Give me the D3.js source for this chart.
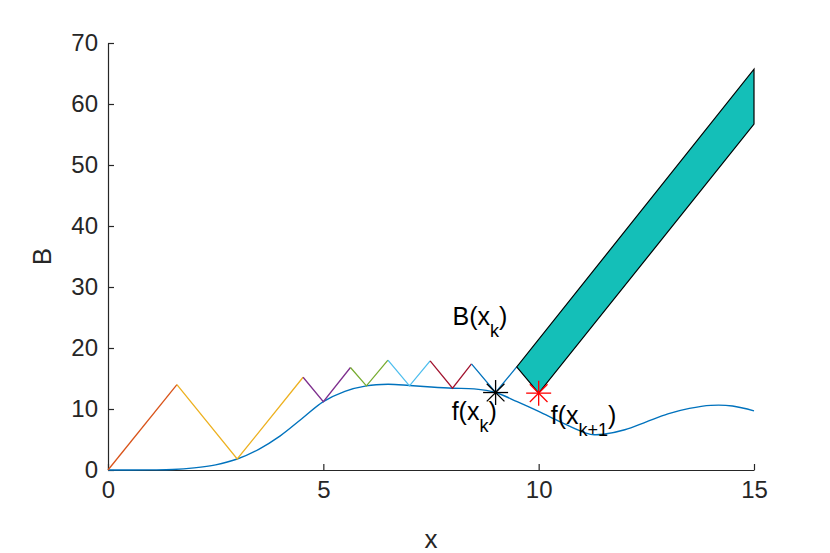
<!DOCTYPE html>
<html><head><meta charset="utf-8">
<script src="https://cdn.jsdelivr.net/npm/d3@7"></script>
<style>body{margin:0;background:#fff}svg{display:block}</style>
</head><body>
<svg id="c" width="830" height="553"></svg>
<script>
// ---- data ----
const xTicks = [0, 5, 10, 15];
const yTicks = [0, 10, 20, 30, 40, 50, 60, 70];
const fX = [0, 0.5, 1, 1.5, 2, 2.5, 3, 3.5, 4, 4.5, 5, 5.5, 6, 6.5, 7, 7.5, 8, 8.5, 9, 9.5, 10, 10.5, 11, 11.25, 11.5, 12, 12.5, 13, 13.5, 14, 14.5, 15];
const fY = [0, 0, 0.02, 0.08, 0.35, 0.85, 1.8, 3.4, 5.6, 8.4, 11.2, 12.9, 13.8, 14.05, 13.85, 13.6, 13.4, 13.3, 12.7, 11.2, 9.6, 7.9, 6.3, 5.8, 5.85, 6.6, 7.9, 9.2, 10.1, 10.6, 10.5, 9.7];
const segX = [[0, 1.6], [1.6, 3, 4.53], [4.53, 5, 5.63], [5.63, 6, 6.5], [6.5, 7, 7.48], [7.48, 8, 8.44], [8.44, 9, 9.49]];
const segY = [[0, 14.0], [14.0, 1.8, 15.2], [15.2, 11.2, 16.8], [16.8, 13.8, 18.0], [18.0, 13.8, 17.9], [17.9, 13.4, 17.4], [17.4, 12.7, 16.9]];
const segColors = ["#D95319", "#EDB120", "#7E2F8E", "#77AC30", "#4DBEEE", "#A2142F", "#0072BD"];
const bandX = [9.49, 10, 15, 15];
const bandY = [16.9, 12.6, 56.7, 65.7];
const starX = [9, 10];
const starY = [12.7, 12.6];
const starColors = ["#000000", "#FF0000"];
const labels = [
  {main: "B(x", sub: "k", end: ")", x: 8.0, y: 23.8},
  {main: "f(x", sub: "k", end: ")", x: 7.98, y: 8.2},
  {main: "f(x", sub: "k+1", end: ")", x: 10.28, y: 7.5}
];

// ---- chart ----
const svg = d3.select("#c");
const font = "'Liberation Sans', Arial, Helvetica, sans-serif";
const x = d3.scaleLinear().domain([0, 15]).range([108, 754]);
const y = d3.scaleLinear().domain([0, 70]).range([470, 43]);
const axisColor = "#262626";

const gx = svg.append("g").attr("transform", `translate(0,${y(0)})`)
  .call(d3.axisBottom(x).tickValues(xTicks).tickSizeInner(-6).tickSizeOuter(0).tickPadding(11).tickFormat(d3.format("d")));
const gy = svg.append("g").attr("transform", `translate(${x(0)},0)`)
  .call(d3.axisLeft(y).tickValues(yTicks).tickSizeInner(-6).tickSizeOuter(0).tickPadding(10).tickFormat(d3.format("d")));
[gx, gy].forEach(g => {
  g.select(".domain").attr("stroke", axisColor).attr("stroke-width", 1.2);
  g.selectAll(".tick line").attr("stroke", axisColor).attr("stroke-width", 1.2);
  g.selectAll(".tick text").attr("fill", axisColor).style("font-family", font).style("font-size", "24px");
});

svg.append("text").attr("x", (x(0) + x(15)) / 2).attr("y", 548).attr("text-anchor", "middle")
  .style("font-family", font).style("font-size", "26px").attr("fill", axisColor).text("x");
svg.append("text").attr("transform", `translate(51,${(y(0) + y(70)) / 2}) rotate(-90)`).attr("text-anchor", "middle")
  .style("font-family", font).style("font-size", "26px").attr("fill", axisColor).text("B");

const plot = svg.append("g");
const smooth = d3.line().x(d => x(d[0])).y(d => y(d[1])).curve(d3.curveCatmullRom.alpha(0.5));
const lineLin = d3.line().x(d => x(d[0])).y(d => y(d[1]));

plot.append("path").datum(fX.map((v, i) => [v, fY[i]]))
  .attr("d", smooth)
  .attr("fill", "none").attr("stroke", "#0072BD").attr("stroke-width", 1.4);

segX.forEach((xs, i) => {
  plot.append("path").datum(xs.map((v, j) => [v, segY[i][j]]))
    .attr("d", lineLin).attr("fill", "none").attr("stroke", segColors[i]).attr("stroke-width", 1.3);
});

plot.append("path")
  .attr("d", lineLin(bandX.map((v, i) => [v, bandY[i]])) + "Z")
  .attr("fill", "#14BFB8").attr("stroke", "#000").attr("stroke-width", 1.2).attr("stroke-linejoin", "miter");

const r = 12.5;
starX.forEach((sx, i) => {
  const g = plot.append("g").attr("transform", `translate(${x(sx)},${y(starY[i])})`);
  [0, 45, 90, 135].forEach(a => {
    const rad = a * Math.PI / 180;
    g.append("line").attr("x1", -r * Math.cos(rad)).attr("y1", -r * Math.sin(rad))
      .attr("x2", r * Math.cos(rad)).attr("y2", r * Math.sin(rad))
      .attr("stroke", starColors[i]).attr("stroke-width", 1.3);
  });
});

labels.forEach(l => {
  const t = svg.append("text").attr("x", x(l.x)).attr("y", y(l.y))
    .style("font-family", font).style("font-size", "25px").attr("fill", "#000");
  t.append("tspan").text(l.main);
  t.append("tspan").attr("dy", 12).style("font-size", "18px").text(l.sub);
  t.append("tspan").attr("dy", -12).text(l.end);
});
</script>
</body></html>
